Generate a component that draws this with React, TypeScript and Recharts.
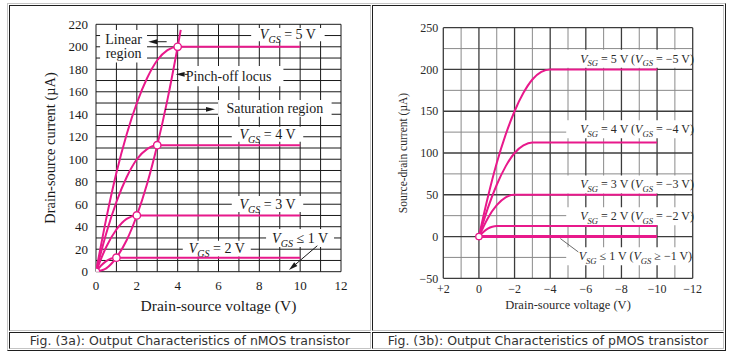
import React from 'react';
import { LineChart, Line, XAxis, YAxis, CartesianGrid, ReferenceArea, ReferenceLine } from 'recharts';

const PINK = '#e8198b';
const INK = '#1a1a1a';
const SERIF = '"Liberation Serif", "Times New Roman", serif';

// nMOS: drain-source voltage (V) / drain current (µA)
const nVds5 = [0, 0.5, 1, 1.5, 2, 2.5, 3, 3.5, 4, 10];
const nId5 = [0, 47, 88, 122, 150, 172, 188, 197, 200, 200];
const nVds4 = [0, 0.5, 1, 1.5, 2, 2.5, 3, 10];
const nId4 = [0, 34, 62, 84, 100, 109, 112.5, 112.5];
const nVds3 = [0, 0.5, 1, 1.5, 2, 10];
const nId3 = [0, 22, 37.5, 47, 50, 50];
const nVds2 = [0, 0.25, 0.5, 0.75, 1, 10];
const nId2 = [0, 5.5, 9.4, 11.7, 12.5, 12.5];
const nVdsPinch = [0, 0.5, 1, 1.5, 2, 2.5, 3, 3.5, 4, 4.15];
const nIdPinch = [0, 3, 12.5, 28, 50, 78, 112.5, 153, 200, 215];
const nVdsSat = [0, 1, 2, 3, 4];
const nIdSat = [0, 12.5, 50, 112.5, 200];

const nXTicks = [0, 2, 4, 6, 8, 10, 12];
const nYTicks = [0, 20, 40, 60, 80, 100, 120, 140, 160, 180, 200, 220];
const nGridX = [0, 1, 2, 3, 4, 5, 6, 7, 8, 9, 10, 11, 12];
const nGridY = [0, 10, 20, 30, 40, 50, 60, 70, 80, 90, 100, 110, 120, 130, 140, 150, 160, 170, 180, 190, 200, 210, 220];

// pMOS: drain-source voltage (V) / source-drain current (µA)
const pVds5 = [0, -0.5, -1, -1.5, -2, -2.5, -3, -3.5, -4, -10];
const pId5 = [0, 47, 88, 122, 150, 172, 188, 197, 200, 200];
const pVds4 = [0, -0.5, -1, -1.5, -2, -2.5, -3, -10];
const pId4 = [0, 34, 62, 84, 100, 109, 112.5, 112.5];
const pVds3 = [0, -0.5, -1, -1.5, -2, -10];
const pId3 = [0, 22, 37.5, 47, 50, 50];
const pVds2 = [0, -0.25, -0.5, -0.75, -1, -10];
const pId2 = [0, 5.5, 9.4, 11.7, 12.5, 12.5];
const pVds1 = [0, -10];
const pId1 = [0, 0];
const pVdsOrigin = [0];
const pIdOrigin = [0];

const pXTicks = [2, 0, -2, -4, -6, -8, -10, -12];
const pYTicks = [-50, 0, 50, 100, 150, 200, 250];
const pGridMajorX = [2, 0, -2, -4, -6, -8, -10, -12];
const pGridMinorX = [1, -1, -3, -5, -7, -9, -11];
const pGridMajorY = [-50, 0, 50, 100, 150, 200, 250];
const pGridMinorY = [-25, 25, 75, 125, 175, 225];

type Seg = [string, 'n' | 'i' | 's'];

const nLabel5: Seg[] = [['V', 'i'], ['GS', 's'], [' = 5 V', 'n']];
const nLabel4: Seg[] = [['V', 'i'], ['GS', 's'], [' = 4 V', 'n']];
const nLabel3: Seg[] = [['V', 'i'], ['GS', 's'], [' = 3 V', 'n']];
const nLabel2: Seg[] = [['V', 'i'], ['GS', 's'], [' = 2 V', 'n']];
const nLabel1: Seg[] = [['V', 'i'], ['GS', 's'], [' ≤ 1 V', 'n']];
const pLabel5: Seg[] = [['V', 'i'], ['SG', 's'], [' = 5 V (', 'n'], ['V', 'i'], ['GS', 's'], [' = −5 V)', 'n']];
const pLabel4: Seg[] = [['V', 'i'], ['SG', 's'], [' = 4 V (', 'n'], ['V', 'i'], ['GS', 's'], [' = −4 V)', 'n']];
const pLabel3: Seg[] = [['V', 'i'], ['SG', 's'], [' = 3 V (', 'n'], ['V', 'i'], ['GS', 's'], [' = −3 V)', 'n']];
const pLabel2: Seg[] = [['V', 'i'], ['SG', 's'], [' = 2 V (', 'n'], ['V', 'i'], ['GS', 's'], [' = −2 V)', 'n']];
const pLabel1: Seg[] = [['V', 'i'], ['SG', 's'], [' ≤ 1 V (', 'n'], ['V', 'i'], ['GS', 's'], [' ≥ −1 V)', 'n']];

const pts = (xs: number[], ys: number[]) => xs.map((x, i) => ({ x, y: ys[i] }));

const spans = (segs: Seg[], size: number) => {
  let low = false;
  return segs.map(([t, k], i) => {
    let dy: number | undefined;
    if (k === 's' && !low) { dy = size * 0.3; low = true; }
    else if (k !== 's' && low) { dy = -size * 0.3; low = false; }
    return (
      <tspan key={i} dy={dy} fontStyle={k === 'n' ? 'normal' : 'italic'} fontSize={k === 's' ? size * 0.72 : size}>
        {t}
      </tspan>
    );
  });
};

const BoxText = (props: any) => {
  const { viewBox, rows, size, anchor = 'middle', pad = 0, color = INK } = props;
  if (!viewBox) return null;
  const { x, y, width, height } = viewBox;
  const tx = anchor === 'middle' ? x + width / 2 : x + pad;
  const base = y + height / 2 + size * 0.33 - ((rows.length - 1) * size) / 2;
  return (
    <g>
      {rows.map((r: Seg[], i: number) => (
        <text key={i} x={tx} y={base + i * size} textAnchor={anchor} fill={color} fontSize={size}
          fontFamily={SERIF} style={{ whiteSpace: 'pre' }}>
          {spans(r, size)}
        </text>
      ))}
    </g>
  );
};

const Arrow = (p: any) => {
  const { x1, y1, x2, y2 } = p;
  const a = Math.atan2(y2 - y1, x2 - x1);
  const len = 9, half = 2.4;
  const bx = x2 - len * Math.cos(a);
  const by = y2 - len * Math.sin(a);
  const pts = `${x2},${y2} ${bx - half * Math.sin(a)},${by + half * Math.cos(a)} ${bx + half * Math.sin(a)},${by - half * Math.cos(a)}`;
  return (
    <g>
      <line x1={x1} y1={y1} x2={bx} y2={by} stroke={INK} strokeWidth={1} />
      <polygon points={pts} fill={INK} />
    </g>
  );
};

const box = (l: number, t: number, r: number, b: number, tl: string, br: string): React.CSSProperties => ({
  position: 'absolute', left: l, top: t, width: r - l + 1, height: b - t + 1, boxSizing: 'border-box',
  borderStyle: 'solid', borderWidth: 1, borderColor: `${tl} ${br} ${br} ${tl}`,
});

const LIGHT = '#c4c4c4';
const DARK = '#1e1e1e';

const captionStyle: React.CSSProperties = {
  position: 'absolute', top: 333, height: 15, lineHeight: '15px', textAlign: 'center',
  fontFamily: '"DejaVu Sans", Verdana, sans-serif', fontSize: 12.5, color: '#333',
};

const curve = (data: { x: number; y: number }[], w = 2) => (
  <Line data={data} dataKey="y" type="monotone" stroke={PINK} strokeWidth={w} dot={false} isAnimationActive={false} />
);

function NmosChart() {
  const area = { fill: '#fff', fillOpacity: 1, stroke: 'none', ifOverflow: 'visible' as const };
  return (
    <LineChart width={359} height={323} margin={{ top: 18.3, right: 28, bottom: 27.3, left: 46 }} style={{ fontFamily: SERIF }}>
      <CartesianGrid verticalValues={nGridX} horizontalValues={nGridY} stroke={INK} strokeWidth={1} />
      <XAxis dataKey="x" type="number" domain={[0, 12]} ticks={nXTicks} interval={0} allowDataOverflow
        height={30} tickLine={false} axisLine={false} tickSize={0} tickMargin={9}
        tick={{ fontSize: 13, fill: INK }}
        label={{ value: 'Drain-source voltage (V)', position: 'bottom', offset: -2, fontSize: 15.5, fill: INK }} />
      <YAxis type="number" domain={[0, 220]} ticks={nYTicks} interval={0} allowDataOverflow
        width={40} tickLine={false} axisLine={false} tickSize={0} tickMargin={8}
        tick={{ fontSize: 13, fill: INK }}
        label={{ value: 'Drain-source current (µA)', angle: -90, position: 'insideLeft', offset: -6, fontSize: 14.4, fill: INK, style: { textAnchor: 'middle' } }} />

      <ReferenceArea x1={0.2} x2={2.5} y1={186} y2={215} {...area}
        label={<BoxText rows={[[['Linear', 'n']], [['region', 'n']]]} size={14} />} />
      <ReferenceArea x1={7.6} x2={11.2} y1={205} y2={216.7} {...area} label={<BoxText rows={[nLabel5]} size={14} />} />
      <ReferenceArea x1={4.05} x2={9.18} y1={165} y2={183} {...area}
        label={<BoxText rows={[[['Pinch-off locus', 'n']]]} size={14} anchor="start" pad={7} />} />
      <ReferenceArea x1={5.98} x2={11.54} y1={137.8} y2={152.6} {...area}
        label={<BoxText rows={[[['Saturation region', 'n']]]} size={14} />} />
      <ReferenceArea x1={6.65} x2={10.15} y1={115.6} y2={129} {...area} label={<BoxText rows={[nLabel4]} size={14} />} />
      <ReferenceArea x1={6.65} x2={10.15} y1={53.1} y2={67.3} {...area} label={<BoxText rows={[nLabel3]} size={14} />} />
      <ReferenceArea x1={4.25} x2={7.58} y1={13.5} y2={27.5} {...area} label={<BoxText rows={[nLabel2]} size={14} />} />
      <ReferenceArea x1={8.33} x2={11.66} y1={22} y2={38} {...area} label={<BoxText rows={[nLabel1]} size={14} />} />

      {curve(pts(nVds5, nId5))}
      {curve(pts(nVds4, nId4))}
      {curve(pts(nVds3, nId3))}
      {curve(pts(nVds2, nId2))}
      {curve(pts(nVdsPinch, nIdPinch))}
      <Line data={pts(nVdsSat, nIdSat)} dataKey="y" stroke="none" isAnimationActive={false}
        dot={{ r: 3.7, fill: '#fff', stroke: PINK, strokeWidth: 1.4 }} />

      <ReferenceLine segment={[{ x: 3.46, y: 204.5 }, { x: 2.56, y: 204.5 }]} ifOverflow="visible" shape={Arrow} />
      <ReferenceLine segment={[{ x: 4.5, y: 175.5 }, { x: 3.9, y: 175.5 }]} ifOverflow="visible" shape={Arrow} />
      <ReferenceLine segment={[{ x: 3.38, y: 144.4 }, { x: 5.83, y: 144.4 }]} ifOverflow="visible" shape={Arrow} />
      <ReferenceLine segment={[{ x: 10.84, y: 23.1 }, { x: 9.45, y: 1.5 }]} ifOverflow="visible" shape={Arrow} />
    </LineChart>
  );
}

const pXTick = (v: number) => (v > 0 ? `+${v}` : v < 0 ? `−${-v}` : '0');
const pYTick = (v: number) => (v < 0 ? `−${-v}` : `${v}`);

function PmosChart() {
  const area = { fill: '#fff', fillOpacity: 1, stroke: 'none', ifOverflow: 'visible' as const };
  const TXT = '#2a2a2a';
  return (
    <LineChart width={349} height={323} margin={{ top: 21.7, right: 29.3, bottom: 30.7, left: 30.3 }} style={{ fontFamily: SERIF }}>
      <CartesianGrid verticalValues={pGridMinorX} horizontalValues={pGridMinorY} stroke="#8a8a8a" strokeWidth={1} />
      <CartesianGrid verticalValues={pGridMajorX} horizontalValues={pGridMajorY} stroke="#3c3c3c" strokeWidth={1.3} />
      <XAxis dataKey="x" type="number" domain={[-12, 2]} reversed ticks={pXTicks} interval={0} allowDataOverflow
        height={20} tickLine={false} axisLine={false} tickSize={0} tickMargin={6} tickFormatter={pXTick}
        tick={{ fontSize: 12, fill: TXT }}
        label={{ value: 'Drain-source voltage (V)', position: 'bottom', offset: 2, fontSize: 12.5, fill: TXT }} />
      <YAxis type="number" domain={[-50, 250]} ticks={pYTicks} interval={0} allowDataOverflow
        width={40} tickLine={false} axisLine={false} tickSize={0} tickMargin={5} tickFormatter={pYTick}
        tick={{ fontSize: 12, fill: TXT }}
        label={{ value: 'Source-drain current (µA)', angle: -90, position: 'insideLeft', offset: 0, fontSize: 11.5, fill: TXT, style: { textAnchor: 'middle' } }} />

      <ReferenceArea x1={-4.9} x2={-11.92} y1={202} y2={223.6} {...area}
        label={<BoxText rows={[pLabel5]} size={12} anchor="start" pad={14} color={TXT} />} />
      <ReferenceArea x1={-4.9} x2={-11.92} y1={117.6} y2={139.2} {...area}
        label={<BoxText rows={[pLabel4]} size={12} anchor="start" pad={14} color={TXT} />} />
      <ReferenceArea x1={-4.9} x2={-11.92} y1={51.6} y2={73.2} {...area}
        label={<BoxText rows={[pLabel3]} size={12} anchor="start" pad={14} color={TXT} />} />
      <ReferenceArea x1={-4.9} x2={-11.92} y1={13.6} y2={35.2} {...area}
        label={<BoxText rows={[pLabel2]} size={12} anchor="start" pad={14} color={TXT} />} />
      <ReferenceArea x1={-4.9} x2={-11.92} y1={-34.4} y2={-12.8} {...area}
        label={<BoxText rows={[pLabel1]} size={12} anchor="start" pad={12.5} color={TXT} />} />

      {curve(pts(pVds5, pId5))}
      {curve(pts(pVds4, pId4))}
      {curve(pts(pVds3, pId3))}
      {curve(pts(pVds2, pId2))}
      {curve(pts(pVds1, pId1), 3)}
      <Line data={pts(pVdsOrigin, pIdOrigin)} dataKey="y" stroke="none" isAnimationActive={false}
        dot={{ r: 3.2, fill: '#fff', stroke: PINK, strokeWidth: 1.3 }} />

      <ReferenceLine segment={[{ x: -4.57, y: -2.4 }, { x: -5.58, y: -18.5 }]} ifOverflow="visible"
        stroke="#444" strokeWidth={0.8} />
    </LineChart>
  );
}

export default function App() {
  return (
    <div style={{ position: 'absolute', left: 0, top: 0, width: 739, height: 361, background: '#fff' }}>
      <div style={box(7, 3, 725, 350, LIGHT, DARK)} />
      <div style={box(9, 5, 370, 330, DARK, LIGHT)} />
      <div style={box(372, 5, 723, 330, DARK, LIGHT)} />
      <div style={box(9, 332, 370, 348, DARK, LIGHT)} />
      <div style={box(372, 332, 723, 348, DARK, LIGHT)} />

      <div style={{ position: 'absolute', left: 10, top: 6 }}>
        <NmosChart />
      </div>
      <div style={{ position: 'absolute', left: 373, top: 6 }}>
        <PmosChart />
      </div>

      <div style={{ ...captionStyle, left: 10, width: 360 }}>Fig. (3a): Output Characteristics of nMOS transistor</div>
      <div style={{ ...captionStyle, left: 373, width: 350 }}>Fig. (3b): Output Characteristics of pMOS transistor</div>
    </div>
  );
}
